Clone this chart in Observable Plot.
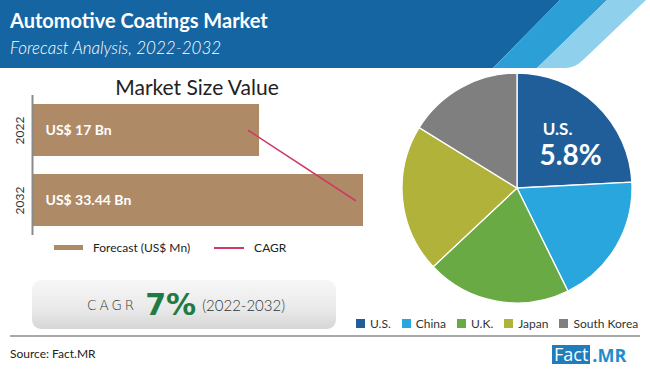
<!DOCTYPE html>
<html>
<head>
<meta charset="utf-8">
<script src="https://cdn.jsdelivr.net/npm/d3@7"></script>
<script src="https://cdn.jsdelivr.net/npm/@observablehq/plot@0.6"></script>
<style>
  html, body { margin: 0; padding: 0; background: #fff; }
  #root { position: relative; width: 650px; height: 375px; overflow: hidden; background: #fff; font-family: Lato, "Open Sans", sans-serif; }
  .abs { position: absolute; white-space: nowrap; }
</style>
</head>
<body>
<div id="root">
  <svg class="abs" style="left:0;top:0" width="650" height="70">
    <polygon points="0,0 560,0 493,68 0,68" fill="#1565a3"/>
    <polygon points="560,0 607,0 537,68 493,68" fill="#2b9fd6"/>
    <path d="M607,0 L646,0 L583,60 Q575,68 565,68 L537,68 Z" fill="#8fd1ec"/>
  </svg>
  <div class="abs" id="title" style="left:10px;top:8px;color:#fff;font-family:Lato;font-weight:700;font-size:20px;">Automotive Coatings Market</div>
  <div class="abs" id="subtitle" style="left:10px;top:37px;color:#fff;font-family:Lato;font-style:italic;font-weight:300;font-size:17px;">Forecast Analysis, 2022-2032</div>

  <div class="abs" id="barTitle" style="left:0;width:394px;top:74px;text-align:center;color:#222;font-family:Lato;font-weight:400;font-size:21px;">Market Size Value</div>
  <div class="abs" id="bars" style="left:0;top:70px"></div>
  <div class="abs" id="barLegend" style="left:54px;top:240px;font-size:12px;color:#222;display:flex;align-items:center;"></div>

  <div class="abs" id="cagrBox" style="left:32px;top:280px;width:304px;height:49px;border-radius:9px;background:linear-gradient(#f7f7f7,#e9e9e9 60%,#d6d6d6);display:flex;align-items:center;justify-content:center;"></div>

  <div class="abs" id="pie" style="left:380px;top:70px"></div>
  <div class="abs" id="pieLegend" style="left:356px;top:316px;font-size:12px;color:#333;display:flex;align-items:center;"></div>

  <div class="abs" style="left:10px;top:335px;width:630px;height:2px;background:#a9a9a9"></div>
  <div class="abs" style="left:10px;top:346px;font-size:12px;color:#222;">Source: Fact.MR</div>
  <div class="abs" style="left:552px;top:345px;height:19px;display:flex;align-items:center;font-family:'Open Sans';font-size:18px;">
    <span style="background:#1f7dbd;color:#fff;padding:0 2px;line-height:19px;">Fact</span><span style="color:#1f8dcc;font-weight:700;margin-left:2px;">.MR</span>
  </div>
</div>
<script>
// ---- data ----
const years = ["2022", "2032"];
const marketValues = [17, 33.44];
const valueLabels = ["US$ 17 Bn", "US$ 33.44 Bn"];
const cagrLineValues = [15.25, 32.16];
const cagrText = "7%";
const cagrPeriod = "(2022-2032)";
const regions = ["U.S.", "China", "U.K.", "Japan", "South Korea"];
const regionShares = [24.2, 18.5, 20.3, 20.8, 16.2];
const highlightRegion = "U.S.";
const highlightValue = "5.8%";

// ---- style config ----
const barColor = "#ae8a67";
const cagrColor = "#cf3a65";
const regionColors = ["#1f5e99", "#2aa6df", "#6aaa45", "#b1b23a", "#7f7f7f"];
const xDomain = [-18.9, 33.44];

const barData = years.map((y, i) => ({year: y, value: marketValues[i], label: valueLabels[i]}));
const cagrData = years.map((y, i) => ({year: y, value: cagrLineValues[i]}));

const barPlot = Plot.plot({
  width: 380, height: 175,
  marginLeft: 32, marginRight: 17, marginTop: 25, marginBottom: 10,
  style: {background: "transparent", fontFamily: "Lato", fontSize: "12px", color: "#333", overflow: "visible"},
  x: {domain: xDomain, axis: null},
  y: {domain: years, paddingInner: 0.257, paddingOuter: 0.1285, label: null},
  marks: [
    Plot.barX(barData, {x1: xDomain[0], x2: "value", y: "year", fill: barColor}),
    Plot.text(barData, {x: xDomain[0], y: "year", text: "label", dx: 13, textAnchor: "start", fill: "#fff", fontWeight: 700, fontSize: 14}),
    Plot.line(cagrData, {x: "value", y: "year", stroke: cagrColor, strokeWidth: 1.5}),
    Plot.ruleX([xDomain[0]], {stroke: "#8a8a8a", strokeWidth: 2}),
    Plot.axisY({tickSize: 0, tickRotate: -90, tickPadding: 9, fontSize: 12, fill: "#333"})
  ]
});
document.getElementById("bars").appendChild(barPlot);

// bar legend
document.getElementById("barLegend").innerHTML =
  `<span style="display:inline-block;width:29px;height:5px;background:${barColor};margin-right:10px"></span><span>Forecast (US$ Mn)</span>` +
  `<span style="display:inline-block;width:30px;height:2px;background:${cagrColor};margin:0 10px 0 24px"></span><span>CAGR</span>`;

// CAGR box
document.getElementById("cagrBox").innerHTML =
  `<span style="font-family:'DejaVu Sans';font-weight:300;font-size:13.5px;letter-spacing:3px;color:#333;margin-left:4px">CAGR</span>` +
  `<span style="font-family:'DejaVu Sans';font-weight:700;font-size:30px;color:#1f7a45;margin:0 6px 0 8px">${cagrText}</span>` +
  `<span style="font-family:Lato;font-weight:300;font-size:15px;color:#333">${cagrPeriod}</span>`;

// pie
const pieData = regions.map((r, i) => ({region: r, share: regionShares[i]}));
const cx = 137, cy = 118, R = 115;
const piePlot = Plot.plot({
  width: 270, height: 245,
  margin: 0,
  style: {background: "transparent", overflow: "visible"},
  x: {domain: [0, 270], range: [0, 270], axis: null},
  y: {domain: [0, 245], range: [0, 245], axis: null},
  color: {domain: regions, range: regionColors},
  marks: [
    (index, scales) => {
      const g = d3.create("svg:g");
      const arcs = d3.pie().sort(null).value(d => d.share)(pieData);
      const arc = d3.arc().innerRadius(0).outerRadius(R);
      g.selectAll("path").data(arcs).join("path")
        .attr("transform", `translate(${cx},${cy})`)
        .attr("d", arc)
        .attr("fill", d => scales.color ? scales.color(d.data.region) : regionColors[regions.indexOf(d.data.region)])
        .attr("stroke", "#fff").attr("stroke-width", 1.3);
      const hi = arcs.find(a => a.data.region === highlightRegion);
      const [lx, ly] = d3.arc().innerRadius(0).outerRadius(R * 1.1).centroid(hi);
      g.append("text").attr("x", cx + lx - 3).attr("y", cy + ly - 12)
        .attr("text-anchor", "middle").attr("dominant-baseline", "middle")
        .attr("fill", "#fff").attr("font-family", "Lato").attr("font-weight", 700).attr("font-size", 17)
        .text(highlightRegion);
      g.append("text").attr("x", cx + lx + 10).attr("y", cy + ly + 16)
        .attr("text-anchor", "middle").attr("dominant-baseline", "middle")
        .attr("fill", "#fff").attr("font-family", "Lato").attr("font-weight", 700).attr("font-size", 28)
        .text(highlightValue);
      return g.node();
    }
  ]
});
document.getElementById("pie").appendChild(piePlot);

// pie legend
document.getElementById("pieLegend").innerHTML = regions.map((r, i) =>
  `<span style="display:inline-block;width:9px;height:9px;background:${regionColors[i]};margin-right:5px"></span><span style="margin-right:${i < regions.length - 1 ? 11 : 0}px">${r}</span>`
).join("");
</script>
</body>
</html>
